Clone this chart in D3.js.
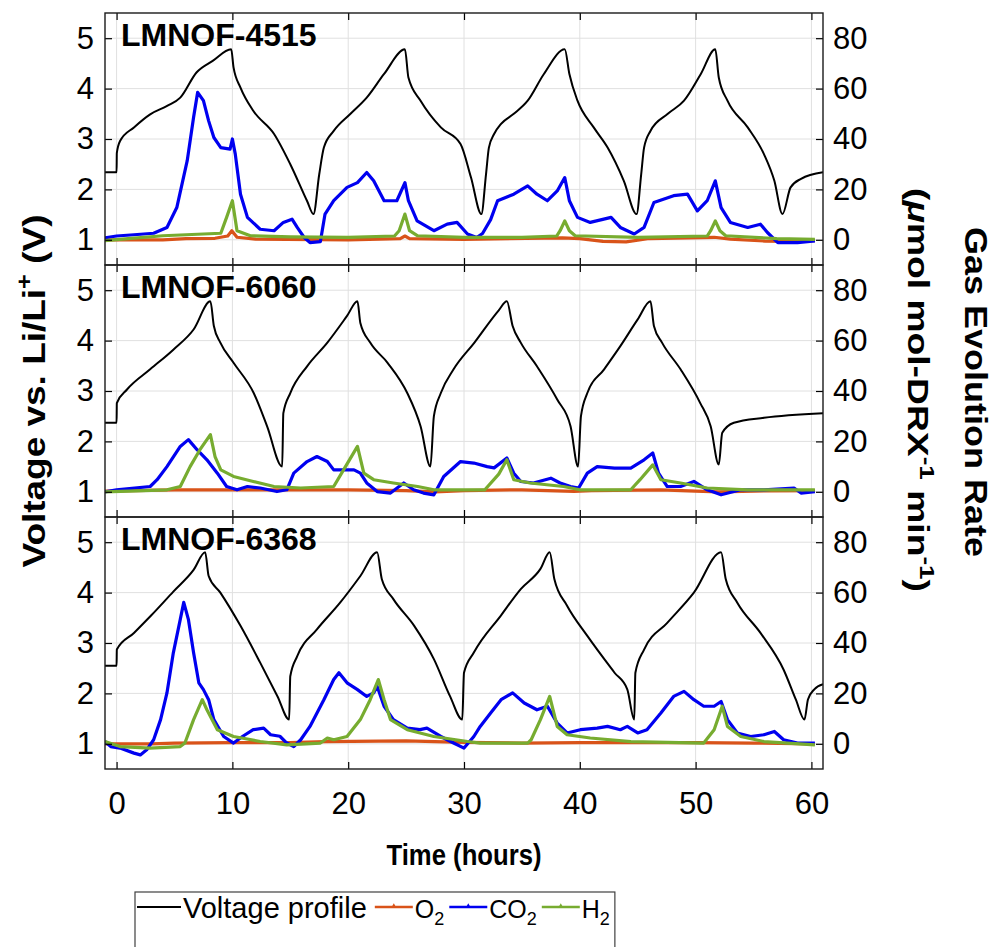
<!DOCTYPE html>
<html>
<head>
<meta charset="utf-8">
<script src="https://cdnjs.cloudflare.com/ajax/libs/d3/7.8.5/d3.min.js"></script>
<style>
  body { margin: 0; background: #fff; }
  svg { font-family: "Liberation Sans", Arial, Helvetica, sans-serif; }
</style>
</head>
<body>
<div id="chart"></div>
<script>
var svgWidth = 995;
var svgHeight = 947;

var plotLeft = 105;
var plotRight = 823;
var plotTop = 13;
var panelHeight = 252;

// ticks and labels
var xTicks = [0, 10, 20, 30, 40, 50, 60];
var voltTicks = [1, 2, 3, 4, 5];
var gasTicks = [0, 20, 40, 60, 80];
var panelNames = ["LMNOF-4515", "LMNOF-6060", "LMNOF-6368"];

// [time (h), voltage (V)]
var volt4515 = [[-1,2.34],[0,2.34],[0.02,2.72],[0.3,2.96],[1.5,3.23],[2.9,3.49],[4.4,3.66],[5.5,3.82],[6.9,4.32],[8.3,4.55],[9.9,4.78],
  [10.1,4.42],[10.7,4.02],[11.8,3.56],[13.6,3.1],[15.0,2.5],[16.45,1.77],[17.0,1.51],
  [17.5,2.3],[17.9,2.83],[18.75,3.16],[20.2,3.5],[21.6,3.82],[23.1,4.29],[24.9,4.78],
  [25.2,4.22],[26.25,3.76],[28.0,3.23],[29.7,2.9],[30.6,2.24],[31.5,1.51],
  [31.9,2.3],[32.15,2.83],[32.6,3.1],[33.2,3.3],[34.3,3.5],[35.5,3.76],[36.9,4.29],[38.7,4.78],
  [39.1,4.29],[39.8,3.76],[41.2,3.23],[42.4,2.83],[43.8,2.17],[44.9,1.51],
  [45.3,2.3],[45.55,2.83],[46.1,3.16],[47.6,3.5],[49.0,3.76],[50.45,4.29],[51.7,4.78],
  [52.0,4.22],[52.75,3.76],[54.5,3.23],[55.9,2.7],[56.8,2.17],[57.5,1.51],
  [58.2,2.04],[59.1,2.21],[61,2.34]];

var volt6060 = [[-1,2.37],[0,2.37],[0.02,2.76],[0.9,3.03],[2.9,3.43],[4.9,3.82],[6.65,4.22],[8.1,4.78],
  [8.4,4.29],[8.96,3.96],[10.1,3.56],[11.84,2.96],[13.0,2.3],[14.3,1.5],
  [14.4,2.56],[15.0,2.96],[16.45,3.49],[18.2,3.96],[19.9,4.49],[20.8,4.78],
  [21.05,4.35],[21.9,3.96],[23.4,3.56],[25.1,2.96],[26.25,2.3],[27.1,1.5],
  [27.4,2.5],[28.0,2.96],[29.1,3.43],[30.9,3.96],[33.0,4.6],[33.7,4.78],
  [34.2,4.29],[34.9,3.96],[36.3,3.49],[38.05,2.83],[39.2,2.3],[39.85,1.5],
  [40.1,2.5],[40.65,2.96],[42.1,3.43],[43.5,3.89],[45.0,4.42],[46.1,4.78],
  [46.4,4.29],[47.1,3.96],[48.7,3.43],[50.4,2.76],[51.3,2.3],[52.0,1.54],
  [52.3,2.17],[53.3,2.37],[55.9,2.47],[61,2.56]];

var volt6368 = [[-1,2.55],[0,2.55],[0.02,2.87],[1.5,3.2],[3.0,3.55],[4.9,4.02],[6.65,4.45],[7.65,4.8],
  [7.95,4.33],[8.96,4.0],[10.7,3.34],[12.4,2.61],[13.9,1.94],[14.9,1.48],
  [15.0,2.34],[15.6,2.74],[17.3,3.27],[19.3,3.8],[21.05,4.33],[22.5,4.8],
  [22.9,4.27],[23.9,3.87],[25.7,3.34],[27.4,2.68],[28.8,1.94],[29.85,1.48],
  [30.0,2.41],[30.85,2.81],[33.2,3.55],[34.9,4.07],[36.6,4.47],[37.4,4.8],
  [37.8,4.27],[38.9,3.74],[40.65,3.14],[43.0,2.41],[44.1,2.08],[44.7,1.48],
  [44.8,2.41],[45.55,2.87],[47.55,3.4],[49.85,4.0],[52.2,4.8],
  [52.6,4.27],[53.6,3.8],[55.6,3.2],[57.6,2.47],[58.65,1.88],[59.4,1.48],
  [59.7,1.88],[60.25,2.08],[61,2.18]];

// [time (h), gas rate (umol mol-DRX^-1 min^-1)]
var o2_4515 = [[-1,0],[4,0],[6,0.5],[8.5,0.6],[9.6,1.5],[9.95,3.6],[10.4,1],[12,0.3],[20,0],[24.5,0.5],[24.9,1.5],[25.3,0.5],
  [30,0.2],[38.5,0.8],[40,0.5],[42,-0.6],[44,-0.8],[46,0.5],[51.6,1.0],[53,0.3],[56,-0.5],[58,-0.6],[60.3,-0.3]];
var co2_4515 = [[-1,0.8],[0,1.5],[1.5,2],[3.2,2.6],[4.35,4.9],[5.2,12.8],[6.1,31.4],[6.65,48.6],[7.0,58.5],[7.5,55.2],[7.95,47.2],
  [8.4,40.6],[9.0,36.6],[9.8,36],[10.0,40],[10.25,34],[10.7,18.1],[11.3,8.9],[12.4,4.2],[13.6,3.6],[14.4,6.9],[15.15,8.2],
  [15.6,4.9],[16.2,0.9],[16.7,-1.1],[17.6,-0.7],[18.0,10.2],[18.75,15.5],[19.9,20.8],[20.8,22.7],[21.6,26.7],[22.2,23.4],
  [23.1,15.5],[24.2,15.5],[24.9,22.7],[25.2,15.5],[25.95,7.5],[27.4,3.6],[28.55,6.2],[29.4,6.9],[30.3,2.3],[31.1,0.9],
  [31.6,2.5],[32.3,8],[32.9,15.5],[34.3,18.1],[35.5,21.4],[36.3,18.1],[37.2,15.5],[38.05,19.4],[38.7,24.7],[39.1,15.5],
  [39.8,8.9],[40.9,6.9],[42.7,8.9],[43.5,4.9],[44.7,2.3],[45.55,4.9],[46.4,14.8],[48.1,17.5],[49.3,18.1],[50.15,11.5],
  [51.0,15.5],[51.7,23.4],[52.2,12.8],[53.0,6.9],[54.5,4.9],[55.6,6.2],[56.2,2.9],[57.1,-1.1],[58.8,-1.1],[60.3,-0.4]];
var h2_4515 = [[-1,-0.3],[1,0.5],[4,1.6],[6,2],[9.0,2.6],[9.5,8.9],[10.0,15.5],[10.4,3.6],[11.55,1.6],[15,1.2],[20,1.0],
  [24.0,1.5],[24.4,3.6],[24.9,10.2],[25.3,3.6],[26,1.6],[30,1.0],[35,1.0],[38.0,1.5],[38.3,3.6],[38.7,7.5],[39.1,3.6],
  [39.6,1.6],[45,1.0],[51.0,1.5],[51.3,3.6],[51.7,7.5],[52.1,3.6],[52.6,1.6],[57,0.5],[60.3,0.2]];

var o2_6060 = [[-1,0.3],[5,0.8],[10,0.8],[15,0.8],[20,0.8],[25,0.5],[27.5,0],[30,0.5],[35,0.8],[39.5,0.2],[41,0.5],
  [47,0.8],[50,0.3],[52,0],[55,0.3],[60.3,0.5]];
var co2_6060 = [[-1,0],[0,0.8],[2.9,2.1],[3.5,4.8],[4.35,10],[5.5,18],[6.2,20.7],[6.95,16.7],[7.8,12.7],[8.7,7.4],[9.5,2.1],
  [10.4,0.8],[11.3,2.1],[12.4,1.5],[13.85,0.1],[14.7,0.8],[15.3,7.4],[16.45,12],[17.3,14],[18.2,12],[18.75,8.7],[19.6,8.7],
  [20.5,8.7],[21.05,7.4],[21.6,3.5],[22.5,0.1],[23.65,-0.5],[24.8,3.5],[25.65,0.8],[26.5,-0.5],[27.4,-1.2],[28.25,6.1],
  [29.7,12],[30.85,11.4],[32.0,10],[32.6,9.5],[33.7,13.4],[34.3,7.4],[34.9,4.1],[36.0,3.5],[37.5,5.4],[38.3,3.5],[39.2,2.1],
  [39.9,1.5],[40.65,7.4],[41.5,10],[43.0,9.4],[44.4,9.4],[45.55,12.7],[46.3,15.4],[46.8,7.4],[47.55,2.1],[48.7,2.1],
  [49.85,4.1],[51.0,0.8],[52.2,-1.2],[53.9,0.8],[55.9,0.8],[58.5,1.5],[59.1,-0.5],[60.3,0.1]];
var h2_6060 = [[-1,0],[4.35,0.8],[5.5,2.1],[6.35,10],[7.2,16.7],[8.1,22.7],[8.5,14],[9.0,8.7],[10.1,6.1],[11.8,4.1],
  [13.6,2.1],[15.9,1.5],[18.75,2.1],[19.6,8.7],[20.8,18],[21.35,7.4],[22.2,4.8],[23.9,3.5],[26.0,2.1],[27.4,0.8],[31.8,0.8],
  [33.0,7.0],[33.7,12.7],[34.3,4.8],[35.7,3.5],[38.6,2.1],[40.0,0.8],[44.4,0.8],[45.2,4.8],[46.3,10.7],[47.0,4.8],
  [48.7,3.5],[51.0,1.5],[54.5,0.8],[60.3,0.8]];

var o2_6368 = [[-1,0],[3,0],[5,0.3],[10,0.5],[15,0.5],[18,0.9],[25,1.2],[30,0.6],[35,0.3],[40,0.5],[45,0.5],[50,0.5],
  [55,0.3],[60.3,0]];
var co2_6368 = [[-1,0.9],[-0.5,-1.1],[0.3,-1.7],[1.5,-3.7],[2.05,-4.4],[2.6,-2.4],[3.2,1.6],[3.8,9.6],[4.35,20.2],[4.9,36.1],
  [5.5,49.4],[5.8,56.1],[6.2,49.4],[6.65,36.1],[7.1,24.2],[7.5,21.5],[7.95,17.5],[8.4,9.6],[9.25,2.9],[10.1,0.3],[10.9,3.0],
  [11.8,5.6],[12.7,6.2],[13.3,3.6],[14.1,3.0],[14.7,0.3],[15.3,-1.1],[15.9,1.6],[16.7,6.9],[17.9,17.5],[18.75,25.5],
  [19.2,28.2],[19.9,24.2],[20.8,21.5],[21.6,18.8],[22.2,20.2],[22.5,22.8],[23.1,14.9],[23.9,9.6],[25.1,6.2],[26.2,5.6],
  [26.8,6.2],[28.0,2.9],[29.1,0.3],[30.0,-1.7],[30.85,2.9],[31.4,6.9],[32.3,12.2],[33.2,17.5],[34.2,20.2],[35.2,16.2],
  [36.3,13.5],[37.2,14.9],[38.05,8.2],[38.9,4.3],[40.05,5.6],[41.5,6.2],[42.4,6.9],[43.5,5.6],[44.1,6.9],[45.0,4.3],
  [45.8,5.6],[47.0,12.2],[48.1,18.8],[49.0,20.8],[49.85,17.5],[50.7,14.9],[51.6,14.9],[52.2,16.8],[52.75,9.6],[53.6,4.3],
  [54.75,2.9],[55.9,3.6],[56.8,4.9],[57.6,1.6],[58.8,0.3],[60.3,0.3]];
var h2_6368 = [[-1,0.9],[0.3,-1.1],[2.9,-1.7],[5.5,-1.1],[5.9,0.3],[6.65,9.6],[7.4,17.5],[7.8,13.5],[8.7,5.6],[10.1,2.9],
  [12.4,0.9],[14.7,-0.4],[17.6,0.3],[18.2,2.3],[18.75,1.6],[19.9,2.9],[21.05,9.6],[21.9,17.5],[22.6,25.5],[23.1,17.5],
  [23.65,9.6],[25.1,5.6],[27.4,2.9],[30.3,0.9],[31.4,0.3],[35.5,0.3],[35.8,1.6],[36.6,9.6],[37.4,18.8],[38.05,6.9],
  [38.9,3.6],[40.9,2.3],[44.4,0.9],[50.7,0.3],[51.6,5.6],[52.3,14.9],[52.75,6.9],[53.9,2.9],[55.9,0.9],[60.3,-0.4]];

var panels = [
  {name: panelNames[0], volt: volt4515, o2: o2_4515, co2: co2_4515, h2: h2_4515},
  {name: panelNames[1], volt: volt6060, o2: o2_6060, co2: co2_6060, h2: h2_6060},
  {name: panelNames[2], volt: volt6368, o2: o2_6368, co2: co2_6368, h2: h2_6368}
];

var colors = {volt: "#000000", o2: "#D95319", co2: "#0000F0", h2: "#77AC30"};

var svg = d3.select("#chart")
  .append("svg")
  .attr("width", svgWidth)
  .attr("height", svgHeight);

svg.append("rect")
  .attr("width", svgWidth)
  .attr("height", svgHeight)
  .attr("fill", "#fff");

var xScale = d3.scaleLinear()
  .domain([-1, 61])
  .range([plotLeft, plotRight]);

function styleAxis(axisG, size) {
  axisG.attr("font-family", null).attr("font-size", null);
  axisG.select(".domain").remove();
  axisG.selectAll(".tick line").attr("stroke", "#000").attr("stroke-width", 1.2);
  axisG.selectAll(".tick text").attr("font-size", size).attr("fill", "#000");
}

panels.forEach(function(p, i) {
  var top = plotTop + i * panelHeight;
  var bottom = top + panelHeight;

  var yVolt = d3.scaleLinear().domain([0.5, 5.5]).range([bottom, top]);
  var yGas = d3.scaleLinear().domain([-10, 90]).range([bottom, top]);

  var g = svg.append("g");

  // grid lines
  g.selectAll(".xgrid")
    .data(xTicks)
    .enter()
    .append("line")
    .attr("x1", d => xScale(d))
    .attr("x2", d => xScale(d))
    .attr("y1", top)
    .attr("y2", bottom)
    .attr("stroke", "#e0e0e0")
    .attr("stroke-width", 1);

  g.selectAll(".ygrid")
    .data(voltTicks)
    .enter()
    .append("line")
    .attr("x1", plotLeft)
    .attr("x2", plotRight)
    .attr("y1", d => yVolt(d))
    .attr("y2", d => yVolt(d))
    .attr("stroke", "#e0e0e0")
    .attr("stroke-width", 1);

  svg.append("clipPath")
    .attr("id", "clip" + i)
    .append("rect")
    .attr("x", plotLeft)
    .attr("y", top)
    .attr("width", plotRight - plotLeft)
    .attr("height", panelHeight);

  var lines = g.append("g").attr("clip-path", "url(#clip" + i + ")");

  var voltLine = d3.line()
    .x(d => xScale(d[0]))
    .y(d => yVolt(d[1]))
    .curve(d3.curveMonotoneX);

  // gas traces are noisy in the source, keep them straight-segmented
  var gasLine = d3.line()
    .x(d => xScale(d[0]))
    .y(d => yGas(d[1]));

  lines.append("path")
    .attr("d", voltLine(p.volt))
    .attr("fill", "none")
    .attr("stroke", colors.volt)
    .attr("stroke-width", 2);

  ["o2", "co2", "h2"].forEach(function(key) {
    lines.append("path")
      .attr("d", gasLine(p[key]))
      .attr("fill", "none")
      .attr("stroke", colors[key])
      .attr("stroke-width", 3.2)
      .attr("stroke-linejoin", "round");
  });

  // left axis
  var leftAxis = g.append("g")
    .attr("transform", `translate(${plotLeft}, 0)`)
    .call(d3.axisLeft(yVolt).tickValues(voltTicks).tickFormat(d3.format("d"))
      .tickSizeInner(-7).tickSizeOuter(0).tickPadding(11));
  styleAxis(leftAxis, 31);

  // right axis
  var rightAxis = g.append("g")
    .attr("transform", `translate(${plotRight}, 0)`)
    .call(d3.axisRight(yGas).tickValues(gasTicks).tickFormat(d3.format("d"))
      .tickSizeInner(-7).tickSizeOuter(0).tickPadding(10));
  styleAxis(rightAxis, 31);

  // top and bottom x ticks
  var topAxis = g.append("g")
    .attr("transform", `translate(0, ${top})`)
    .call(d3.axisTop(xScale).tickValues(xTicks).tickSizeInner(-7).tickSizeOuter(0).tickFormat(""));
  styleAxis(topAxis, 31);

  var bottomAxis = g.append("g")
    .attr("transform", `translate(0, ${bottom})`)
    .call(d3.axisBottom(xScale).tickValues(xTicks).tickSizeInner(-7).tickSizeOuter(0).tickPadding(23)
      .tickFormat(i == panels.length - 1 ? d3.format("d") : ""));
  styleAxis(bottomAxis, 31);

  // frame
  g.append("rect")
    .attr("x", plotLeft)
    .attr("y", top)
    .attr("width", plotRight - plotLeft)
    .attr("height", panelHeight)
    .attr("fill", "none")
    .attr("stroke", "#1a1a1a")
    .attr("stroke-width", 1.4);

  // panel label
  g.append("text")
    .attr("x", 121)
    .attr("y", top + 33)
    .attr("font-size", 32)
    .attr("font-weight", "bold")
    .text(p.name);
});

// x axis title
svg.append("text")
  .attr("x", (plotLeft + plotRight) / 2)
  .attr("y", 865)
  .attr("text-anchor", "middle")
  .attr("font-size", 29)
  .attr("font-weight", "bold")
  .attr("textLength", 155)
  .attr("lengthAdjust", "spacingAndGlyphs")
  .text("Time (hours)");

// left y axis title
var leftTitle = svg.append("text")
  .attr("transform", "translate(45, 391) rotate(-90)")
  .attr("text-anchor", "middle")
  .attr("font-size", 32)
  .attr("font-weight", "bold")
  .attr("textLength", 353)
  .attr("lengthAdjust", "spacingAndGlyphs");
leftTitle.append("tspan").text("Voltage vs. Li/Li");
leftTitle.append("tspan").attr("dy", -13).attr("font-size", 22).text("+");
leftTitle.append("tspan").attr("dy", 13).text(" (V)");

// right y axis title
svg.append("text")
  .attr("transform", "translate(965, 392) rotate(90)")
  .attr("text-anchor", "middle")
  .attr("font-size", 31)
  .attr("font-weight", "bold")
  .attr("textLength", 330)
  .attr("lengthAdjust", "spacingAndGlyphs")
  .text("Gas Evolution Rate");

var rightTitle = svg.append("text")
  .attr("transform", "translate(908, 390) rotate(90)")
  .attr("text-anchor", "middle")
  .attr("font-size", 30)
  .attr("font-weight", "bold")
  .attr("textLength", 404)
  .attr("lengthAdjust", "spacingAndGlyphs");
rightTitle.append("tspan").text("(");
rightTitle.append("tspan").attr("font-style", "italic").text("\u03bc");
rightTitle.append("tspan").text("mol mol-DRX");
rightTitle.append("tspan").attr("dy", -12).attr("font-size", 21).text("-1");
rightTitle.append("tspan").attr("dy", 12).text(" min");
rightTitle.append("tspan").attr("dy", -12).attr("font-size", 21).text("-1");
rightTitle.append("tspan").attr("dy", 12).text(")");

// legend
var legendItems = [
  {key: "volt", label: "Voltage profile", sub: "", size: 29, lineLen: 44},
  {key: "o2", label: "O", sub: "2", size: 25, lineLen: 38},
  {key: "co2", label: "CO", sub: "2", size: 25, lineLen: 38},
  {key: "h2", label: "H", sub: "2", size: 25, lineLen: 38}
];

var legend = svg.append("g");
var legendBox = legend.append("rect")
  .attr("x", 135)
  .attr("y", 892)
  .attr("height", 60)
  .attr("fill", "#fff")
  .attr("stroke", "#404040")
  .attr("stroke-width", 1.2);

var lx = 137;
var lineY = 907;
legendItems.forEach(function(item, k) {
  legend.append("line")
    .attr("x1", lx)
    .attr("x2", lx + item.lineLen)
    .attr("y1", lineY)
    .attr("y2", lineY)
    .attr("stroke", colors[item.key])
    .attr("stroke-width", item.key == "volt" ? 2 : 2.5);
  if (item.key != "volt") {
    legend.append("path")
      .attr("d", d3.symbol().type(d3.symbolTriangle).size(10)())
      .attr("transform", `translate(${lx + item.lineLen / 2}, ${lineY - 1})`)
      .attr("fill", colors[item.key]);
  }
  var t = legend.append("text")
    .attr("x", lx + item.lineLen + 2)
    .attr("y", 918)
    .attr("font-size", item.size);
  t.append("tspan").text(item.label);
  if (item.sub) {
    t.append("tspan").attr("dy", 7).attr("font-size", 18).text(item.sub);
  }
  lx = lx + item.lineLen + 2 + t.node().getComputedTextLength() + (k == 0 ? 8 : 5);
});
legendBox.attr("width", lx - 135);
</script>
</body>
</html>
